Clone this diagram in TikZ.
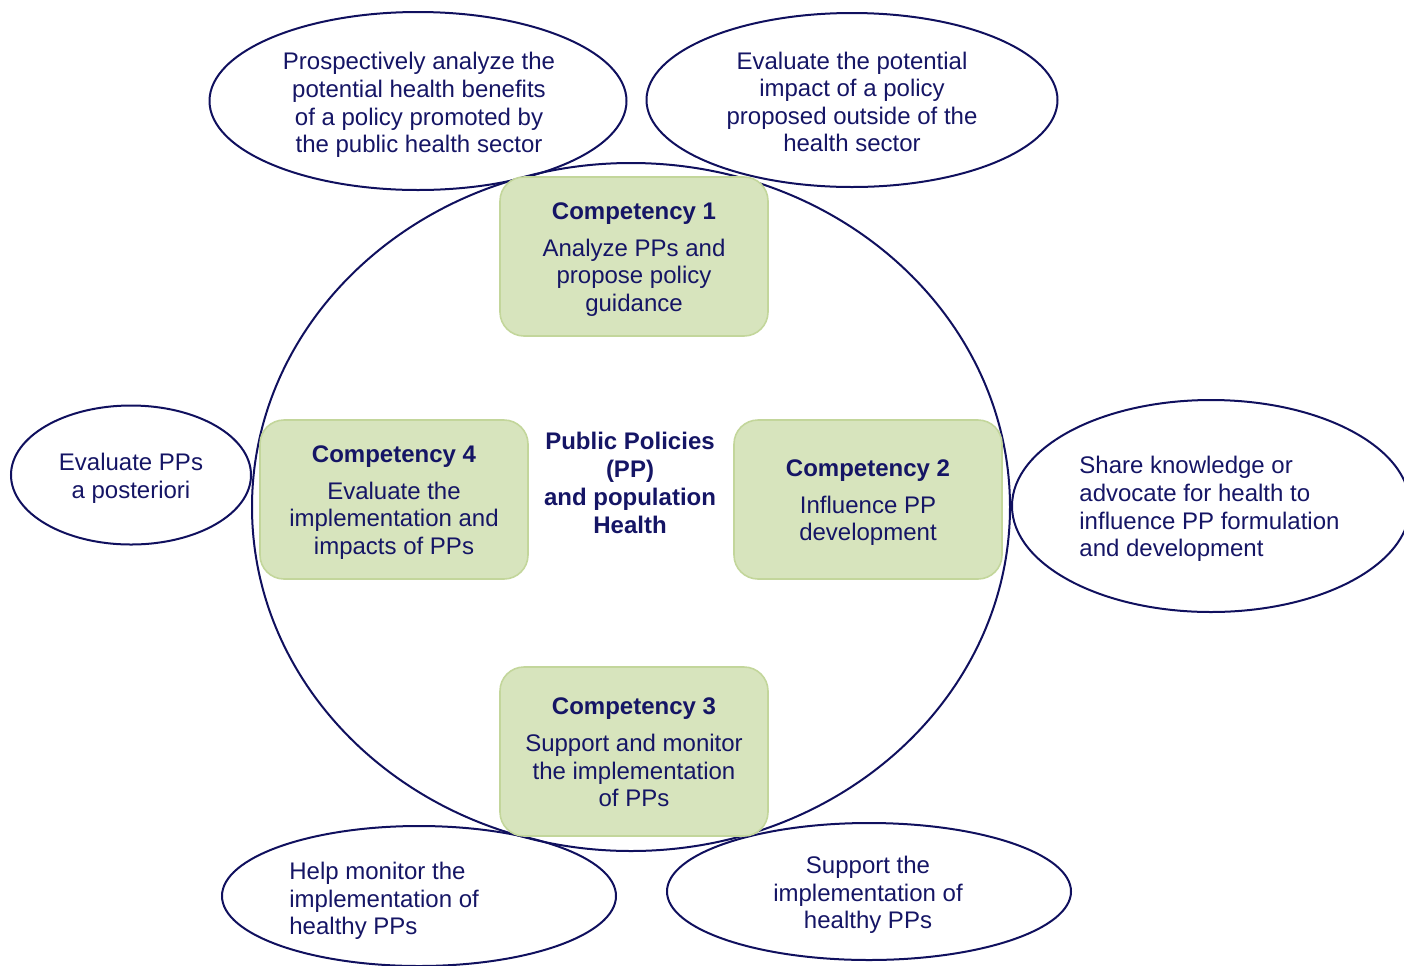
\documentclass[tikz,border=0pt]{standalone}
\usepackage{fontspec}
\setmainfont{Liberation Sans}
\usetikzlibrary{shapes.geometric}
\definecolor{navy}{HTML}{151565}
\definecolor{linenavy}{HTML}{10105E}
\definecolor{compfill}{HTML}{D7E4BD}
\definecolor{compline}{HTML}{C3D69B}
\tikzset{
  oval/.style={ellipse, draw=linenavy, line width=1pt, inner sep=0pt},
  ovaltext/.style={text=navy, align=center, inner sep=0pt, font=\fontsize{12}{13.8}\selectfont},
  compbox/.style={rounded corners=12pt, draw=compline, line width=0.8pt, fill=compfill,
    minimum width=134pt, minimum height=79.5pt, inner sep=0pt},
  comptext/.style={text=navy, align=center, inner sep=0pt, font=\fontsize{12}{13.8}\selectfont},
  hubtext/.style={text=navy, align=center, inner sep=0pt, font=\bfseries\fontsize{12}{14}\selectfont}
}
\begin{document}
\begin{tikzpicture}[x=0.5pt,y=-0.5pt]
\useasboundingbox (0,0) rectangle (1404,965);
% big circle
\node[oval, minimum width=379pt, minimum height=344pt] (hub) at (631,507) {};
% outer ellipses
\node[oval, minimum width=208.5pt, minimum height=89pt] (e1) at (418,101) {};
\node[oval, minimum width=205.5pt, minimum height=87pt] (e2) at (852,100) {};
\node[oval, minimum width=120pt, minimum height=69.5pt] (e3) at (131,475) {};
\node[oval, minimum width=199pt, minimum height=106pt] (e4) at (1211,506) {};
\node[oval, minimum width=197pt, minimum height=70pt] (e5) at (419,896) {};
\node[oval, minimum width=202pt, minimum height=68.5pt] (e6) at (869,891.5) {};
% ellipse texts
\node[ovaltext] (t1) at (419,105) {Prospectively analyze the\\potential health benefits\\of a policy promoted by\\the public health sector};
\node[ovaltext] (t2) at (852,102) {Evaluate the potential\\impact of a policy\\proposed outside of the\\health sector};
\node[ovaltext] (t3) at (131,478) {Evaluate PPs\\a posteriori};
\node[ovaltext, align=left, anchor=west] (t4) at (1079,509) {Share knowledge or\\advocate for health to\\influence PP formulation\\and development};
\node[ovaltext, align=left, anchor=west] (t5) at (289,901) {Help monitor the\\implementation of\\healthy PPs};
\node[ovaltext] (t6) at (868,895) {Support the\\implementation of\\healthy PPs};
% center text
\node[hubtext] (center) at (630,483) {Public Policies\\(PP)\\and population\\Health};
% competency boxes
\node[compbox] (c1) at (634,256.5) {};
\node[comptext] (c1t) at (634,259.5) {\textbf{Competency 1}\\[4.6pt]Analyze PPs and\\propose policy\\guidance};
\node[compbox] (c4) at (394,499.5) {};
\node[comptext] (c4t) at (394,502.5) {\textbf{Competency 4}\\[4.6pt]Evaluate the\\implementation and\\impacts of PPs};
\node[compbox] (c2) at (868,499.5) {};
\node[comptext] (c2t) at (868,502.5) {\textbf{Competency 2}\\[4.6pt]Influence PP\\development};
\node[compbox, minimum height=84.5pt] (c3) at (634,751.5) {};
\node[comptext] (c3t) at (634,752.5) {\textbf{Competency 3}\\[4.6pt]Support and monitor\\the implementation\\of PPs};
\end{tikzpicture}
\end{document}
